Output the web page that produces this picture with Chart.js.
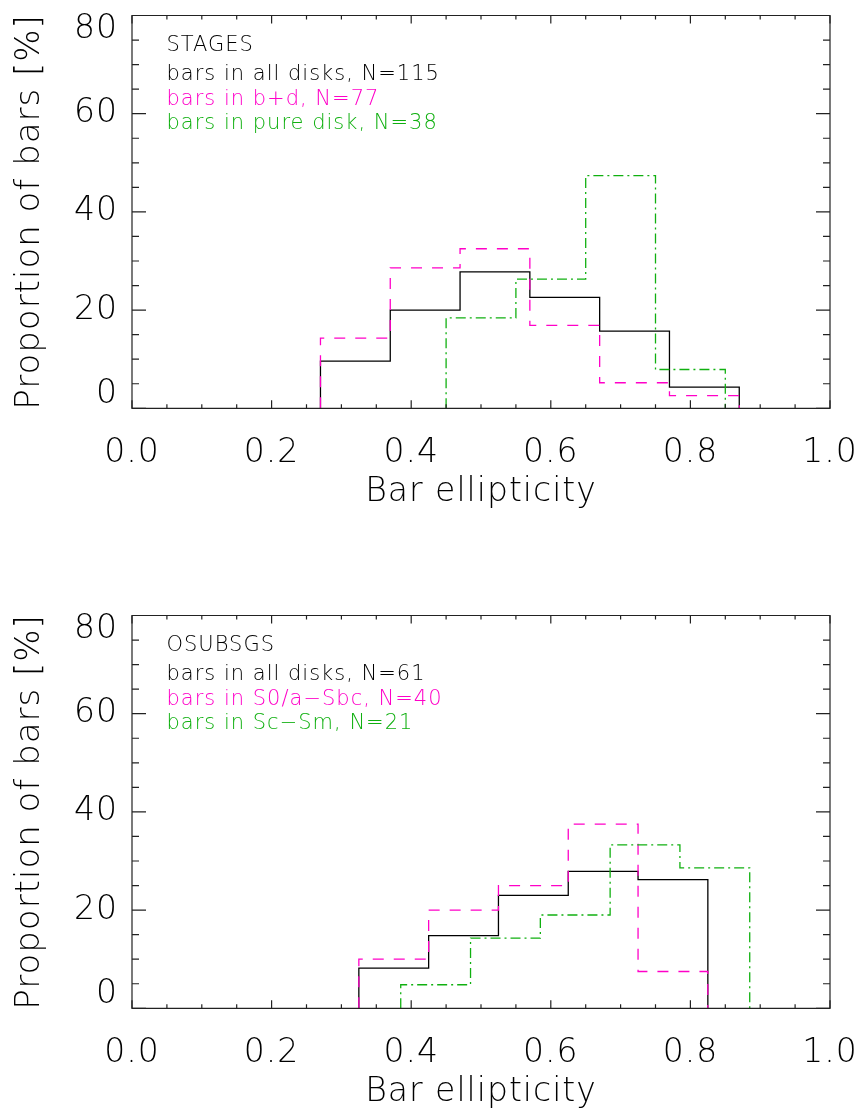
<!DOCTYPE html>
<html>
<head>
<meta charset="utf-8">
<script src="https://cdn.jsdelivr.net/npm/chart.js@4/dist/chart.umd.min.js"></script>
<style>
html,body{margin:0;padding:0;background:#fff;}
#wrap{position:relative;width:861px;height:1115px;}
canvas{position:absolute;left:0;}
#c1{top:0;}
#c2{top:600px;}
</style>
</head>
<body>
<div id="wrap">
<canvas id="c1" width="861" height="515"></canvas>
<canvas id="c2" width="861" height="515"></canvas>
</div>
<script>
// ---- data ----
const xTickMajor = [0.0, 0.2, 0.4, 0.6, 0.8, 1.0];
const yTickMajor = [0, 20, 40, 60, 80];

// Top panel: STAGES
const stagesEdgesAll = [0.27, 0.37, 0.47, 0.57, 0.67, 0.77, 0.87];
const stagesAll      = [9.6, 20.0, 27.8, 22.6, 15.7, 4.3];
const stagesEdgesBD  = [0.27, 0.37, 0.47, 0.57, 0.67, 0.77, 0.87];
const stagesBD       = [14.3, 28.6, 32.5, 16.9, 5.2, 2.6];
const stagesEdgesPD  = [0.45, 0.55, 0.65, 0.75, 0.85];
const stagesPD       = [18.4, 26.3, 47.4, 7.9];
const stagesLines    = ["STAGES", "bars in all disks, N=115", "bars in b+d, N=77", "bars in pure disk, N=38"];

// Bottom panel: OSUBSGS
const osuEdgesAll = [0.325, 0.425, 0.525, 0.625, 0.725, 0.825];
const osuAll      = [8.2, 14.8, 23.0, 27.9, 26.2];
const osuEdgesE   = [0.325, 0.425, 0.525, 0.625, 0.725, 0.825];
const osuE        = [10.0, 20.0, 25.0, 37.5, 7.5];
const osuEdgesL   = [0.385, 0.485, 0.585, 0.685, 0.785, 0.885];
const osuL        = [4.8, 14.3, 19.0, 33.3, 28.6];
const osuLines    = ["OSUBSGS", "bars in all disks, N=61", "bars in S0/a\u2212Sbc, N=40", "bars in Sc\u2212Sm, N=21"];

const BLACK = '#000000';
const PINK = '#ff00c8';
const GREEN = '#10b010';
const FONT = "'DejaVu Sans', 'Liberation Sans', sans-serif";

function stepPoints(edges, vals) {
  const pts = [{x: edges[0], y: 0}];
  for (let i = 0; i < vals.length; i++) {
    pts.push({x: edges[i], y: vals[i]});
    pts.push({x: edges[i + 1], y: vals[i]});
  }
  pts.push({x: edges[edges.length - 1], y: 0});
  return pts;
}
function isMult(v, step) {
  const r = v / step;
  return Math.abs(r - Math.round(r)) < 1e-6;
}

const framePlugin = {
  id: 'idlFrame',
  beforeDraw(chart) { chart.ctx.letterSpacing = '1px'; },
  afterDraw(chart) {
    const {ctx, chartArea: a, scales: {x, y}} = chart;
    ctx.save();
    ctx.strokeStyle = '#222';
    ctx.lineWidth = 1.2;
    ctx.beginPath();
    ctx.rect(a.left, a.top, a.right - a.left, a.bottom - a.top);
    ctx.stroke();
    ctx.beginPath();
    x.ticks.forEach(t => {
      const px = x.getPixelForValue(t.value);
      const len = isMult(t.value, 0.2) ? 8 : 4;
      ctx.moveTo(px, a.bottom); ctx.lineTo(px, a.bottom - len);
      ctx.moveTo(px, a.top); ctx.lineTo(px, a.top + len);
    });
    y.ticks.forEach(t => {
      const py = y.getPixelForValue(t.value);
      const len = isMult(t.value, 20) ? 14 : 7;
      ctx.moveTo(a.left, py); ctx.lineTo(a.left + len, py);
      ctx.moveTo(a.right, py); ctx.lineTo(a.right - len, py);
    });
    ctx.stroke();
    // annotation text block
    const o = chart.options.plugins.idlFrame || {};
    if (o.lines) {
      ctx.font = "200 21px " + FONT;
      ctx.textAlign = 'left';
      ctx.textBaseline = 'alphabetic';
      ctx.letterSpacing = '1px';
      const base = [35.2, 64.5, 89.5, 113.7];
      o.lines.forEach((s, i) => {
        ctx.fillStyle = o.colors[i];
        ctx.fillText(s, a.left + 34.5, a.top + base[i]);
      });
    }
    ctx.restore();
  }
};

function makeChart(id, sets, lines) {
  const styles = [
    {color: BLACK, dash: [], order: 3},
    {color: PINK, dash: [11, 10], order: 2},
    {color: GREEN, dash: [10, 4, 2, 4], order: 1}
  ];
  const datasets = sets.map((s, i) => ({
    label: lines[i + 1],
    data: stepPoints(s.edges, s.vals),
    showLine: true,
    borderColor: styles[i].color,
    borderWidth: 1.3,
    borderDash: styles[i].dash,
    pointRadius: 0,
    fill: false,
    tension: 0,
    order: styles[i].order
  }));
  return new Chart(document.getElementById(id), {
    type: 'scatter',
    data: {datasets},
    plugins: [framePlugin],
    options: {
      responsive: false,
      animation: false,
      events: [],
      layout: {padding: {top: 15.5, right: 31, left: 0, bottom: 0}},
      plugins: {
        legend: {display: false},
        tooltip: {enabled: false},
        idlFrame: {lines: lines, colors: [BLACK, BLACK, PINK, GREEN]}
      },
      scales: {
        x: {
          type: 'linear', min: 0, max: 1,
          afterFit(s) { s.height = 106.7; s.paddingLeft = 0; s.paddingRight = 0; s.paddingTop = 0; s.paddingBottom = 0; },
          grid: {display: false, drawTicks: false},
          border: {display: false},
          ticks: {
            stepSize: 0.05, autoSkip: false, maxRotation: 0, padding: 25,
            color: '#000',
            font: {family: FONT, size: 33, weight: '200'},
            callback: v => xTickMajor.some(m => Math.abs(m - v) < 1e-6) ? v.toFixed(1) : ''
          },
          title: {
            display: true, text: 'Bar ellipticity', color: '#000',
            font: {family: FONT, size: 33, weight: '200'},
            padding: {top: 0, bottom: 3}
          }
        },
        y: {
          type: 'linear', min: 0, max: 80,
          afterFit(s) { s.width = 132; s.paddingLeft = 0; s.paddingRight = 0; s.paddingTop = 0; s.paddingBottom = 0; },
          grid: {display: false, drawTicks: false},
          border: {display: false},
          ticks: {
            stepSize: 5, autoSkip: false, padding: 14,
            color: '#000',
            font: {family: FONT, size: 33, weight: '200', lineHeight: '27px'},
            callback: v => {
              if (!yTickMajor.includes(v)) return '';
              if (v === yTickMajor[0]) return [String(v), ''];
              if (v === yTickMajor[yTickMajor.length - 1]) return ['', String(v)];
              return String(v);
            }
          },
          title: {
            display: true, text: 'Proportion of bars [%]', color: '#000',
            font: {family: FONT, size: 34, weight: '200'},
            padding: {top: 10, bottom: 0}
          }
        }
      }
    }
  });
}

makeChart('c1', [
  {edges: stagesEdgesAll, vals: stagesAll},
  {edges: stagesEdgesBD, vals: stagesBD},
  {edges: stagesEdgesPD, vals: stagesPD}
], stagesLines);

makeChart('c2', [
  {edges: osuEdgesAll, vals: osuAll},
  {edges: osuEdgesE, vals: osuE},
  {edges: osuEdgesL, vals: osuL}
], osuLines);
</script>
</body>
</html>
